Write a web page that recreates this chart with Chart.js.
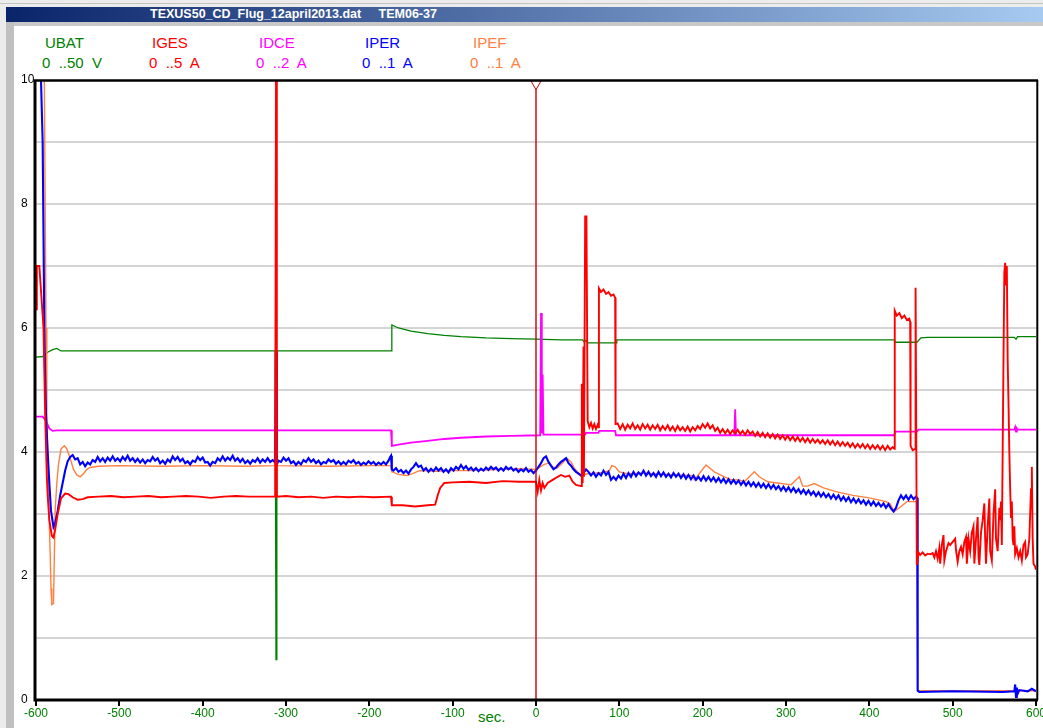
<!DOCTYPE html>
<html>
<head>
<meta charset="utf-8">
<title>TEXUS50_CD_Flug_12april2013.dat</title>
<script src="https://cdn.jsdelivr.net/npm/chart.js@4.4.1/dist/chart.umd.min.js"></script>
<style>
  html, body { margin: 0; padding: 0; }
  body { width: 1043px; height: 728px; background: #ececec; position: relative; overflow: hidden;
         font-family: "Liberation Sans", Arial, sans-serif; }
  #topline { position: absolute; left: 0; top: 3px; width: 1043px; height: 1px; background: #c4c4c4; }
  #titlebar { position: absolute; left: 6px; top: 7px; width: 1037px; height: 15px;
              background: linear-gradient(to right, #0a246a, #a6caf0); }
  #titletext { position: absolute; left: 150px; top: 7px; height: 15px; line-height: 15px; color: #fff;
               font-weight: bold; font-size: 12.5px; white-space: pre; }
  #underbar { position: absolute; left: 6px; top: 22px; width: 1037px; height: 4px; background: #c8c8c8; }
  #leftbar { position: absolute; left: 6px; top: 22px; width: 8px; height: 706px; background: #c0c0c0; }
  #client { position: absolute; left: 14px; top: 26px; width: 1029px; height: 702px; background: #fff; }
  .leg { position: absolute; font-size: 15px; line-height: 17px; white-space: pre; }
  #xtitle { position: absolute; left: 478px; top: 708px; font-size: 15px; line-height: 17px; color: #008000; }
  canvas { position: absolute; left: 0; top: 0; }
</style>
</head>
<body>
<div id="topline"></div>
<div id="titlebar"></div>
<div id="titletext">TEXUS50_CD_Flug_12april2013.dat     TEM06-37</div>
<div id="underbar"></div>
<div id="leftbar"></div>
<div id="client"></div>
<div id="legend"></div>
<div id="xtitle">sec.</div>
<canvas id="chart" width="1043" height="728"></canvas>

<script>
// channel names, ranges and colours (values below are in display units 0..10)
const channels = ['UBAT', 'IGES', 'IDCE', 'IPER', 'IPEF'];
const ranges = ['0  ..50  V', '0  ..5  A', '0  ..2  A', '0  ..1  A', '0  ..1  A'];
const colors = ['#008000', '#ff0000', '#ff00ff', '#0000ff', '#ff8040'];

const xTickLabels = ['-600', '-500', '-400', '-300', '-200', '-100', '0', '100', '200', '300', '400', '500', '600'];
const yTickLabels = ['0', '', '2', '', '4', '', '6', '', '8', '', '10'];

const cursorTime = 0;

// [time in sec, value]
const UBAT = [
  [-600, 5.53], [-592, 5.54], [-586, 5.61], [-580, 5.65], [-575, 5.67], [-570, 5.63],
  [-313, 5.63], [-312, 0.65], [-311, 5.6], [-310, 5.63], [-174, 5.63],
  [-173, 6.05], [-165, 6.0], [-150, 5.95], [-130, 5.91], [-110, 5.88], [-90, 5.86],
  [-60, 5.84], [-30, 5.83], [0, 5.82], [30, 5.81], [56, 5.81], [58, 5.77], [60, 5.8],
  [62, 5.76], [96, 5.76], [97, 5.81], [200, 5.81], [300, 5.81], [430, 5.81],
  [431, 5.77], [457, 5.77], [462, 5.84], [470, 5.85], [574, 5.85], [576, 5.82], [578, 5.86], [600, 5.86]
];

const IDCE = [
  [-600, 4.57], [-592, 4.57], [-588, 4.5], [-584, 4.38], [-580, 4.34], [-575, 4.35],
  [-174, 4.35], [-173, 4.1], [-165, 4.12], [-150, 4.15], [-130, 4.18], [-110, 4.21],
  [-90, 4.23], [-60, 4.25], [-30, 4.26], [5, 4.27], [6, 6.24], [7, 4.3], [8, 5.25], [9, 4.28],
  [59, 4.28], [60, 4.31], [75, 4.31], [76, 4.34], [95, 4.34], [96, 4.27],
  [238, 4.27], [239, 4.69], [240, 4.27], [430, 4.27], [431, 4.33], [457, 4.33],
  [459, 4.36], [574, 4.36], [575, 4.4], [576, 4.33], [577, 4.38], [578, 4.36], [600, 4.36]
];

const IGES = [
  [-600, 6.3], [-599, 7.0], [-596, 7.0], [-594, 6.6], [-591, 6.0], [-589, 4.6], [-587, 3.6],
  [-586, 3.3], [-584, 2.9], [-581, 2.65], [-579, 2.62], [-577, 2.75], [-574, 3.0], [-570, 3.25],
  [-565, 3.33], [-561, 3.32], [-556, 3.27], [-550, 3.23], [-544, 3.24], [-538, 3.27],
  [-525, 3.28], [-510, 3.29], [-495, 3.27], [-480, 3.28], [-465, 3.29], [-450, 3.27],
  [-435, 3.28], [-420, 3.29], [-405, 3.28], [-390, 3.26], [-375, 3.28], [-360, 3.29],
  [-345, 3.28], [-330, 3.28], [-313, 3.28], [-312, 10], [-311, 3.28], [-300, 3.29],
  [-285, 3.27], [-270, 3.28], [-255, 3.26], [-240, 3.28], [-225, 3.27], [-210, 3.28],
  [-195, 3.27], [-174, 3.28],
  [-173, 3.14], [-160, 3.14], [-145, 3.12], [-130, 3.14], [-121, 3.15], [-118, 3.3],
  [-115, 3.42], [-110, 3.5], [-100, 3.51], [-80, 3.52], [-60, 3.5], [-40, 3.53],
  [-20, 3.52], [0, 3.52], [2, 3.36], [4, 3.55], [6, 3.38], [8, 3.5], [10, 3.42], [14, 3.5],
  [20, 3.55], [26, 3.6], [30, 3.63], [35, 3.6], [40, 3.62], [44, 3.52], [48, 3.47],
  [54, 3.45], [55, 5.1], [56, 3.5], [57, 5.7], [57.5, 3.6], [59, 7.8], [60.5, 7.8],
  [62, 4.5], [64, 4.4], [66, 4.47], [68, 4.38], [70, 4.45], [72, 4.37], [74, 4.44], [75, 4.4],
  [75.5, 6.64], [78, 6.58], [81, 6.62], [84, 6.55], [87, 6.58], [90, 6.52], [93, 6.54], [95, 6.49],
  [95.5, 4.45],
  [98, 4.46], [101, 4.37], [104, 4.45], [107, 4.36], [110, 4.44], [113, 4.38], [116, 4.46],
  [119, 4.37], [122, 4.43], [125, 4.36], [128, 4.45], [131, 4.38], [134, 4.44], [137, 4.36],
  [140, 4.43], [143, 4.37], [146, 4.44], [149, 4.35], [152, 4.42], [155, 4.36], [158, 4.43],
  [161, 4.35], [164, 4.41], [167, 4.34], [170, 4.42], [173, 4.35], [176, 4.4], [179, 4.34],
  [182, 4.41], [185, 4.33], [188, 4.4], [191, 4.35], [194, 4.42], [197, 4.37], [200, 4.45],
  [203, 4.39], [206, 4.46], [209, 4.38], [212, 4.43], [215, 4.34], [218, 4.39], [221, 4.31],
  [224, 4.37], [227, 4.3], [230, 4.36], [233, 4.29], [236, 4.35], [239, 4.3], [242, 4.36],
  [245, 4.29], [248, 4.34], [251, 4.28], [254, 4.35], [257, 4.29], [260, 4.33], [263, 4.26],
  [266, 4.32], [269, 4.25], [272, 4.31], [275, 4.24], [278, 4.3], [281, 4.23], [284, 4.29],
  [287, 4.22], [290, 4.28], [293, 4.21], [296, 4.27], [299, 4.2], [302, 4.26], [305, 4.19],
  [308, 4.25], [311, 4.18], [314, 4.24], [317, 4.17], [320, 4.23], [323, 4.16], [326, 4.22],
  [329, 4.15], [332, 4.21], [335, 4.15], [338, 4.2], [341, 4.14], [344, 4.19], [347, 4.13],
  [350, 4.19], [353, 4.12], [356, 4.18], [359, 4.11], [362, 4.17], [365, 4.1], [368, 4.16],
  [371, 4.1], [374, 4.15], [377, 4.08], [380, 4.14], [383, 4.07], [386, 4.13], [389, 4.07],
  [392, 4.13], [395, 4.06], [398, 4.12], [401, 4.05], [404, 4.11], [407, 4.05], [410, 4.11],
  [413, 4.04], [416, 4.1], [419, 4.03], [422, 4.1], [425, 4.04], [428, 4.08], [430, 4.05],
  [430.5, 6.28], [433, 6.2], [436, 6.24], [439, 6.16], [442, 6.2], [445, 6.13], [448, 6.15],
  [449, 6.1], [449.5, 4.1], [452, 4.03], [455, 4.05], [455.5, 6.65], [457, 2.18],
  [459, 2.38], [461, 2.34], [464, 2.38], [467, 2.33], [470, 2.36], [473, 2.35], [476, 2.37],
  [478, 2.3], [480, 2.4], [482, 2.28], [484, 2.45], [485, 2.2], [487, 2.5], [489, 2.66],
  [490, 2.25], [492, 2.4], [495, 2.53], [497, 2.5], [500, 2.55], [503, 2.6], [504, 2.42],
  [506, 2.23], [508, 2.4], [510, 2.47], [512, 2.35], [514, 2.55], [516, 2.63], [517, 2.2],
  [519, 2.6], [521, 2.4], [523, 2.7], [525, 2.8], [526, 2.2], [528, 2.6], [530, 2.95],
  [531, 2.3], [532, 2.18], [534, 2.7], [536, 2.9], [538, 3.17], [539, 2.6], [540, 2.2],
  [542, 2.8], [544, 3.25], [545, 2.4], [547, 2.25], [549, 3.0], [551, 3.4], [552, 2.6],
  [554, 2.4], [556, 3.1], [557, 2.9], [558, 3.2], [559, 2.5], [560, 4.0], [561, 5.5],
  [562, 6.9], [563, 7.05], [564, 6.7], [565, 7.0], [566, 5.5], [567, 4.8], [568, 4.0],
  [569, 3.4], [570, 2.95], [571, 3.2], [572, 2.6], [573, 2.5], [574, 2.8], [575, 2.35],
  [577, 2.45], [579, 2.3], [581, 2.4], [583, 2.25], [585, 2.5], [587, 2.55], [588, 2.3],
  [590, 2.35], [592, 2.6], [594, 3.4], [595, 3.76], [596, 2.6], [597, 2.2], [599, 2.15], [600, 2.1]
];

const IPER = [
  [-600, 10], [-594, 10], [-592, 9.0], [-591, 7.5], [-590, 6.0], [-589, 5.2], [-588, 4.6],
  [-586, 4.0], [-584, 3.5], [-582, 3.05], [-579, 2.79], [-577, 2.85], [-574, 3.05],
  [-571, 3.3], [-568, 3.5], [-565, 3.7], [-562, 3.85], [-559, 3.92],
  [-556, 3.95], [-553, 3.88], [-550, 3.9], [-547, 3.8], [-544, 3.84], [-541, 3.77],
  [-538, 3.83], [-535, 3.8], [-532, 3.87], [-529, 3.84], [-526, 3.92], [-523, 3.85],
  [-520, 3.9], [-517, 3.84], [-514, 3.91], [-511, 3.86], [-508, 3.93], [-505, 3.86],
  [-502, 3.9], [-499, 3.85], [-496, 3.92], [-493, 3.87], [-490, 3.94], [-487, 3.86],
  [-484, 3.9], [-481, 3.84], [-478, 3.89], [-475, 3.83], [-472, 3.88], [-469, 3.82],
  [-466, 3.87], [-463, 3.85], [-460, 3.92], [-457, 3.86], [-454, 3.9], [-451, 3.82],
  [-448, 3.86], [-445, 3.81], [-442, 3.88], [-439, 3.84], [-436, 3.93], [-433, 3.87],
  [-430, 3.92], [-427, 3.85], [-424, 3.89], [-421, 3.82], [-418, 3.85], [-415, 3.8],
  [-412, 3.86], [-409, 3.84], [-406, 3.92], [-403, 3.87], [-400, 3.91], [-397, 3.83],
  [-394, 3.84], [-391, 3.78], [-388, 3.84], [-385, 3.82], [-382, 3.9], [-379, 3.86],
  [-376, 3.93], [-373, 3.86], [-370, 3.91], [-367, 3.87], [-364, 3.94], [-361, 3.86],
  [-358, 3.9], [-355, 3.84], [-352, 3.89], [-349, 3.82], [-346, 3.86], [-343, 3.81],
  [-340, 3.87], [-337, 3.84], [-334, 3.9], [-331, 3.83], [-328, 3.88], [-325, 3.84],
  [-322, 3.9], [-319, 3.84], [-316, 3.87], [-313, 3.83], [-312, 5.6], [-311, 3.8],
  [-309, 3.86], [-306, 3.84], [-303, 3.91], [-300, 3.86], [-297, 3.9], [-294, 3.82],
  [-291, 3.85], [-288, 3.79], [-285, 3.84], [-282, 3.8], [-279, 3.87], [-276, 3.84],
  [-273, 3.9], [-270, 3.84], [-267, 3.88], [-264, 3.82], [-261, 3.86], [-258, 3.8],
  [-255, 3.84], [-252, 3.82], [-249, 3.88], [-246, 3.84], [-243, 3.87], [-240, 3.81],
  [-237, 3.85], [-234, 3.8], [-231, 3.84], [-228, 3.8], [-225, 3.86], [-222, 3.83],
  [-219, 3.87], [-216, 3.81], [-213, 3.84], [-210, 3.79], [-207, 3.83], [-204, 3.8],
  [-201, 3.85], [-198, 3.81], [-195, 3.84], [-192, 3.79], [-189, 3.83], [-186, 3.8],
  [-183, 3.84], [-180, 3.8], [-177, 3.86], [-175, 3.92], [-174, 3.94], [-173, 3.72],
  [-171, 3.7], [-168, 3.74], [-165, 3.68], [-162, 3.71], [-159, 3.66], [-156, 3.7],
  [-153, 3.65], [-150, 3.72], [-147, 3.76], [-144, 3.82], [-141, 3.76], [-138, 3.78],
  [-135, 3.7], [-132, 3.74], [-129, 3.68], [-126, 3.73], [-123, 3.69], [-120, 3.75],
  [-117, 3.7], [-114, 3.74], [-111, 3.68], [-108, 3.72], [-105, 3.67], [-102, 3.74],
  [-99, 3.7], [-96, 3.76], [-93, 3.72], [-90, 3.79], [-87, 3.73], [-84, 3.77], [-81, 3.71],
  [-78, 3.75], [-75, 3.7], [-72, 3.74], [-69, 3.69], [-66, 3.73], [-63, 3.7], [-60, 3.75],
  [-57, 3.71], [-54, 3.76], [-51, 3.72], [-48, 3.75], [-45, 3.7], [-42, 3.74], [-39, 3.7],
  [-36, 3.76], [-33, 3.72], [-30, 3.75], [-27, 3.7], [-24, 3.73], [-21, 3.68], [-18, 3.72],
  [-15, 3.69], [-12, 3.74], [-9, 3.68], [-6, 3.71], [-3, 3.66], [0, 3.7],
  [3, 3.76], [6, 3.82], [9, 3.9], [12, 3.93], [15, 3.84], [18, 3.78], [21, 3.72], [24, 3.75],
  [27, 3.8], [30, 3.84], [33, 3.87], [36, 3.9], [39, 3.82], [42, 3.78], [45, 3.72],
  [48, 3.68], [51, 3.65], [54, 3.62], [57, 3.66], [60, 3.72], [63, 3.68], [66, 3.62],
  [69, 3.67], [72, 3.6], [75, 3.66], [78, 3.62], [81, 3.7], [84, 3.63], [87, 3.68],
  [90, 3.55], [93, 3.6], [96, 3.55], [99, 3.62], [102, 3.57], [105, 3.65], [108, 3.58],
  [111, 3.66], [114, 3.6], [117, 3.68], [120, 3.61], [123, 3.67], [126, 3.63], [129, 3.7],
  [132, 3.62], [135, 3.68], [138, 3.61], [141, 3.66], [144, 3.6], [147, 3.68], [150, 3.61],
  [153, 3.67], [156, 3.6], [159, 3.65], [162, 3.59], [165, 3.66], [168, 3.6], [171, 3.65],
  [174, 3.58], [177, 3.64], [180, 3.57], [183, 3.63], [186, 3.56], [189, 3.62], [192, 3.55],
  [195, 3.6], [198, 3.54], [201, 3.61], [204, 3.54], [207, 3.6], [210, 3.53], [213, 3.59],
  [216, 3.52], [219, 3.58], [222, 3.51], [225, 3.57], [228, 3.5], [231, 3.56], [234, 3.49],
  [237, 3.55], [240, 3.49], [243, 3.54], [246, 3.47], [249, 3.53], [252, 3.46], [255, 3.52],
  [258, 3.45], [261, 3.51], [264, 3.44], [267, 3.5], [270, 3.43], [273, 3.49], [276, 3.42],
  [279, 3.48], [282, 3.41], [285, 3.47], [288, 3.4], [291, 3.45], [294, 3.38], [297, 3.44],
  [300, 3.37], [303, 3.43], [306, 3.36], [309, 3.42], [312, 3.35], [315, 3.4], [318, 3.33],
  [321, 3.39], [324, 3.32], [327, 3.38], [330, 3.31], [333, 3.36], [336, 3.29], [339, 3.35],
  [342, 3.28], [345, 3.34], [348, 3.27], [351, 3.32], [354, 3.25], [357, 3.31], [360, 3.24],
  [363, 3.3], [366, 3.22], [369, 3.28], [372, 3.21], [375, 3.27], [378, 3.19], [381, 3.25],
  [384, 3.18], [387, 3.24], [390, 3.17], [393, 3.22], [396, 3.15], [399, 3.21], [402, 3.14],
  [405, 3.2], [408, 3.13], [411, 3.18], [414, 3.12], [417, 3.17], [420, 3.1], [423, 3.16],
  [426, 3.09], [429, 3.04], [432, 3.1], [435, 3.22], [438, 3.3], [441, 3.24], [444, 3.3],
  [447, 3.23], [450, 3.3], [453, 3.24], [456, 3.28], [457.5, 3.26], [458, 0.15],
  [460, 0.13], [500, 0.14], [560, 0.13], [574, 0.14], [575, 0.25], [576, 0.05], [577, 0.2],
  [578, 0.1], [580, 0.16], [590, 0.14], [595, 0.18], [600, 0.14]
];

const IPEF = [
  [-600, 10], [-590, 10], [-589, 8], [-588, 6], [-587, 4.6], [-585, 3.3], [-583, 2.37],
  [-582, 1.8], [-581, 1.54], [-579, 1.56], [-578, 2.3], [-577, 3.06], [-575, 3.5],
  [-573, 3.8], [-570, 4.05], [-566, 4.1], [-563, 4.05], [-559, 3.9], [-555, 3.72],
  [-551, 3.63], [-547, 3.6], [-543, 3.65], [-539, 3.72], [-535, 3.75], [-525, 3.77],
  [-500, 3.78], [-450, 3.77], [-400, 3.78], [-350, 3.77], [-313, 3.78], [-312, 4.6],
  [-311, 3.78], [-250, 3.77], [-200, 3.78], [-174, 3.78], [-173, 3.68], [-165, 3.64],
  [-155, 3.62], [-148, 3.65], [-140, 3.7], [-120, 3.69], [-100, 3.7], [-80, 3.7],
  [-60, 3.71], [-40, 3.72], [-20, 3.73], [0, 3.72], [5, 3.76], [10, 3.8], [15, 3.82],
  [20, 3.76], [25, 3.74], [30, 3.8], [37, 3.9], [42, 3.84], [46, 3.74], [51, 3.66],
  [55, 3.63], [62, 3.65], [70, 3.66], [80, 3.67], [88, 3.7], [91, 3.78], [95, 3.76],
  [100, 3.68], [110, 3.65], [130, 3.66], [150, 3.64], [170, 3.63], [188, 3.62], [190, 3.55],
  [204, 3.79], [214, 3.68], [226, 3.6], [235, 3.55], [244, 3.55], [250, 3.52], [262, 3.68],
  [268, 3.6], [278, 3.52], [290, 3.5], [306, 3.47], [316, 3.6], [320, 3.45], [326, 3.45],
  [334, 3.49], [345, 3.42], [360, 3.36], [380, 3.3], [400, 3.26], [420, 3.2], [425, 3.16],
  [430, 3.04], [438, 3.12], [445, 3.2], [457, 3.2], [458, 0.15], [600, 0.15]
];

const series = [UBAT, IGES, IDCE, IPER, IPEF];

// legend in two rows above the plot
const legendX = [45, 152, 259, 365, 473];
const legendBox = document.getElementById('legend');
channels.forEach((name, i) => {
  const a = document.createElement('div');
  a.className = 'leg';
  a.style.left = legendX[i] + 'px';
  a.style.top = '34px';
  a.style.color = colors[i];
  a.textContent = name;
  legendBox.appendChild(a);
  const b = document.createElement('div');
  b.className = 'leg';
  b.style.left = (legendX[i] - 3) + 'px';
  b.style.top = '54px';
  b.style.color = colors[i];
  b.textContent = ranges[i];
  legendBox.appendChild(b);
});

// black frame round the plot
const framePlugin = {
  id: 'frame',
  afterDatasetsDraw(chart) {
    const { ctx, chartArea: a } = chart;
    ctx.save();
    ctx.strokeStyle = '#000';
    ctx.beginPath();
    ctx.lineWidth = 3;
    ctx.moveTo(a.left - 1, a.top);
    ctx.lineTo(a.left - 1, a.bottom + 1.5);
    ctx.moveTo(a.left - 2.5, a.bottom);
    ctx.lineTo(a.right + 2, a.bottom);
    ctx.stroke();
    ctx.beginPath();
    ctx.lineWidth = 2.5;
    ctx.moveTo(a.left - 2.5, a.top + 0.6);
    ctx.lineTo(a.right + 2, a.top + 0.6);
    ctx.stroke();
    ctx.beginPath();
    ctx.lineWidth = 2;
    ctx.moveTo(a.right + 1.3, a.top);
    ctx.lineTo(a.right + 1.3, a.bottom);
    ctx.stroke();
    ctx.restore();
  }
};

const widths = [1.3, 1.9, 1.8, 2.1, 1.4];
const lineSets = series.map((s, i) => ({
  label: channels[i],
  data: s.map(([x, y]) => ({ x, y })),
  borderColor: colors[i],
  borderWidth: widths[i],
  pointRadius: 0,
  tension: 0
}));
// draw order, top first: IGES, IPER, IPEF, IDCE, UBAT
const drawOrder = [1, 3, 4, 2, 0];

new Chart(document.getElementById('chart'), {
  type: 'line',
  data: {
    datasets: [
      {
        label: 'cursor mark',
        data: [{ x: cursorTime, y: 9.94 }],
        showLine: false,
        pointStyle: 'triangle',
        rotation: 180,
        pointRadius: 6,
        backgroundColor: '#ffffff',
        borderColor: '#d00000',
        borderWidth: 1
      },
      {
        label: 'cursor',
        data: [{ x: cursorTime, y: 0 }, { x: cursorTime, y: 10 }],
        borderColor: '#c80000',
        borderWidth: 1.4,
        pointRadius: 0
      },
      ...drawOrder.map(i => lineSets[i])
    ]
  },
  options: {
    responsive: false,
    animation: false,
    events: [],
    layout: { padding: { left: 21, top: 80, right: 5, bottom: 0 } },
    plugins: { legend: { display: false }, tooltip: { enabled: false } },
    scales: {
      x: {
        type: 'linear',
        min: -600,
        max: 600,
        afterFit(scale) { scale.height = 28; scale.paddingLeft = 0; scale.paddingRight = 0; },
        ticks: {
          stepSize: 100,
          autoSkip: false,
          maxRotation: 0,
          padding: 0,
          color: '#008000',
          font: { family: 'Liberation Sans', size: 12 },
          callback: (v, i) => xTickLabels[i]
        },
        grid: { drawOnChartArea: false, drawTicks: true, tickLength: 6, color: '#000', lineWidth: 2 },
        border: { display: false }
      },
      y: {
        min: 0,
        max: 10,
        afterFit(scale) { scale.width = 15; scale.paddingTop = 0; scale.paddingBottom = 0; },
        ticks: {
          stepSize: 1,
          crossAlign: 'far',
          color: '#000',
          font: { family: 'Liberation Sans', size: 12 },
          callback: (v) => yTickLabels[v]
        },
        grid: {
          drawTicks: false,
          lineWidth: 2,
          color: (c) => (c.tick.value === 0 || c.tick.value === 10) ? 'rgba(0,0,0,0)' : '#d4d4d4'
        },
        border: { display: false }
      }
    }
  },
  plugins: [framePlugin]
});
</script>
</body>
</html>
